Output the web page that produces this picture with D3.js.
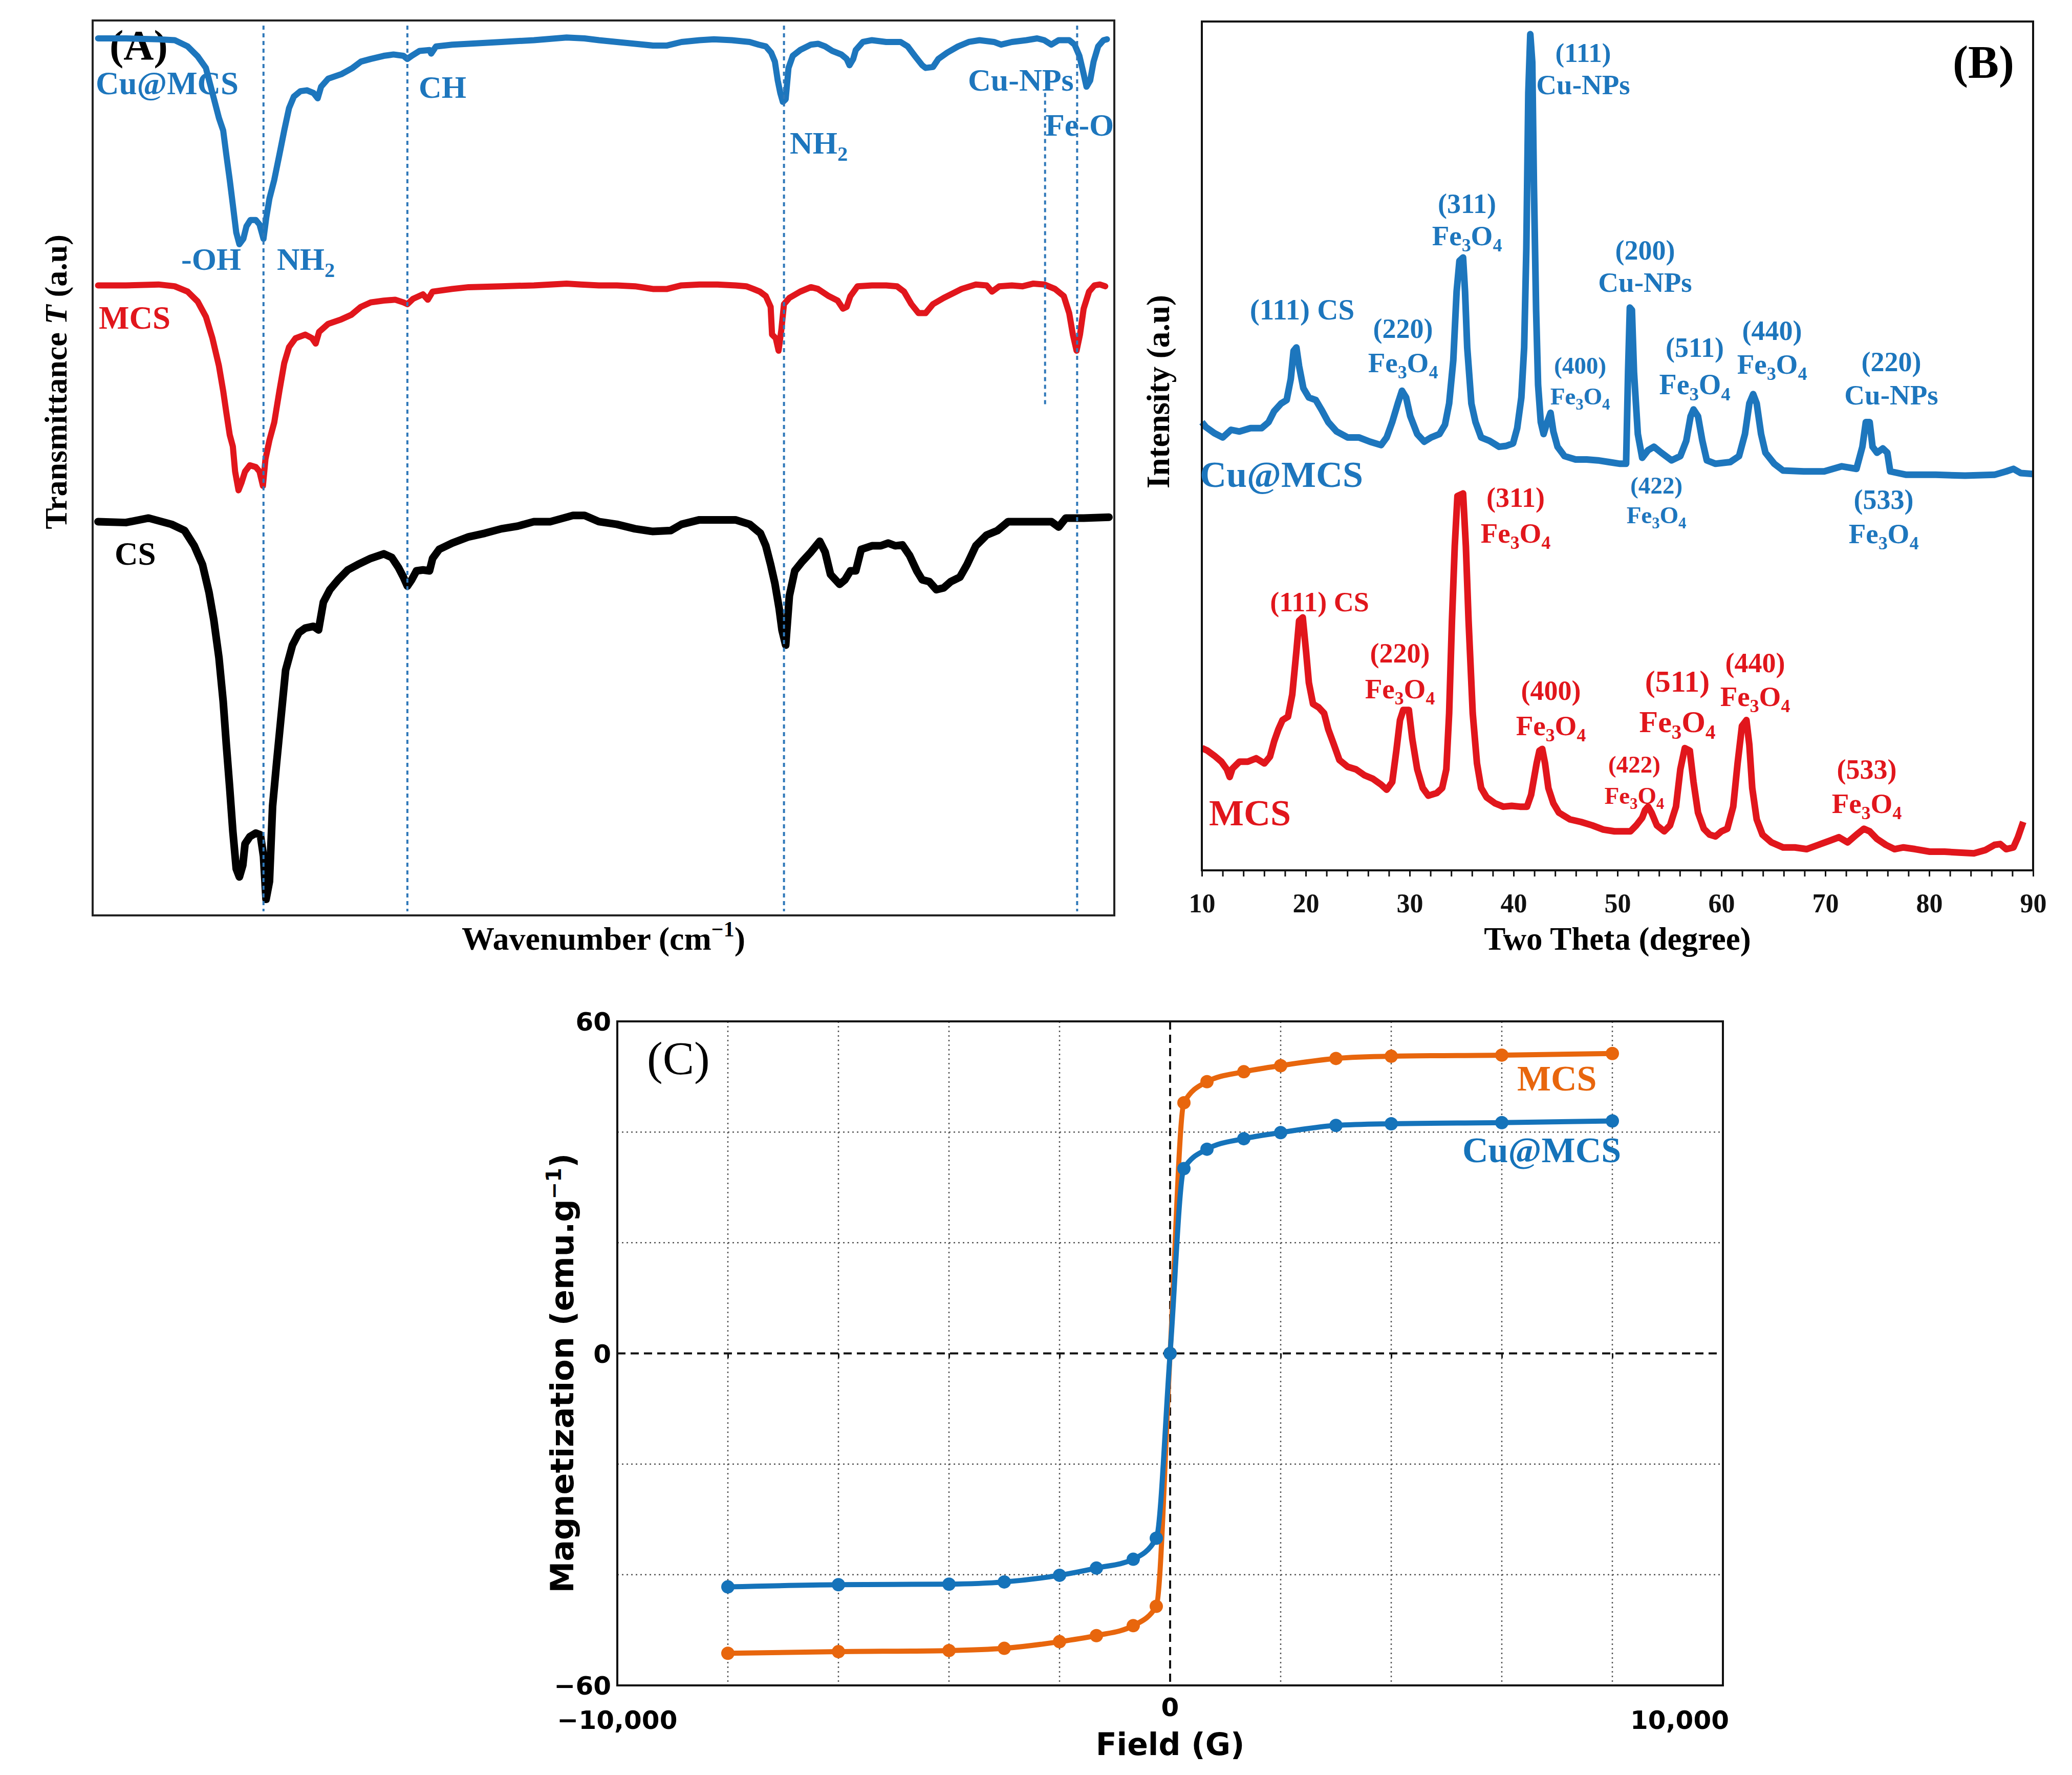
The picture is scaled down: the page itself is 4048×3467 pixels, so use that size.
<!DOCTYPE html>
<html>
<head>
<meta charset="utf-8">
<script src="https://cdn.jsdelivr.net/npm/d3@7"></script>
<style>
    body { margin: 0; background: #fff; }
</style>
</head>
<body>
<div id="chart"></div>
<script>

// ---------- (A) FTIR spectra: [wavenumber cm-1, transmittance (stacked, a.u.)] ----------
const ftirCuMCS = [[3981,98.0],[3883,98.0],[3768,97.9],[3711,97.8],[3665,97.1],[3630,96.0],[3601,94.7],[3578,91.9],[3555,89.1],[3540,87.7],[3529,85.0],[3517,82.2],[3506,79.4],[3494,76.3],[3483,75.0],[3469,75.6],[3458,77.0],[3444,77.7],[3425,77.7],[3412,77.2],[3398,75.6],[3388,78.0],[3377,80.1],[3360,82.2],[3342,85.0],[3325,87.7],[3308,90.2],[3291,91.5],[3268,92.1],[3245,92.2],[3222,91.9],[3207,91.3],[3195,92.6],[3170,93.5],[3124,94.0],[3084,94.7],[3055,95.4],[3020,95.7],[2974,96.05],[2940,96.2],[2905,96.05],[2891,95.7],[2876,96.05],[2848,96.6],[2813,96.7],[2807,96.3],[2790,97.1],[2733,97.3],[2675,97.4],[2560,97.6],[2445,97.8],[2330,98.1],[2267,98.0],[2216,97.8],[2153,97.6],[2089,97.4],[2026,97.2],[1976,97.2],[1925,97.6],[1862,97.8],[1811,97.9],[1748,97.8],[1685,97.6],[1653,97.3],[1628,97.1],[1609,96.4],[1596,95.4],[1586,93.3],[1577,91.9],[1568,90.9],[1558,91.2],[1548,94.7],[1533,96.05],[1507,96.7],[1469,97.3],[1444,97.4],[1419,97.1],[1394,96.6],[1362,96.2],[1343,95.7],[1333,95.0],[1320,95.7],[1311,96.7],[1286,97.6],[1254,97.8],[1204,97.6],[1153,97.6],[1128,97.1],[1103,96.05],[1077,95.0],[1065,94.7],[1039,94.8],[1020,95.7],[989,96.4],[951,97.1],[913,97.6],[875,97.8],[824,97.6],[799,97.3],[761,97.6],[710,97.8],[672,98.0],[647,97.8],[622,97.3],[596,97.8],[559,97.8],[540,97.3],[523,96.05],[510,94.3],[498,92.6],[485,93.3],[473,95.4],[457,97.1],[438,97.8],[426,97.9]];

const ftirMCS = [[3981,70.4],[3883,70.4],[3768,70.5],[3711,70.3],[3665,69.7],[3630,68.6],[3601,66.9],[3578,64.5],[3555,61.4],[3540,58.6],[3529,56.2],[3517,53.7],[3506,52.4],[3498,49.6],[3486,47.5],[3475,48.4],[3463,49.6],[3446,50.3],[3425,50.1],[3412,49.6],[3400,48.0],[3391,51.0],[3377,53.1],[3360,55.1],[3342,58.6],[3325,61.7],[3308,63.5],[3285,64.5],[3251,64.9],[3227,64.5],[3214,63.9],[3202,65.2],[3170,66.1],[3124,66.6],[3089,67.1],[3055,68.0],[3020,68.5],[2974,68.7],[2934,68.8],[2905,68.5],[2891,68.3],[2871,68.9],[2836,69.4],[2819,68.8],[2802,69.7],[2733,70.0],[2675,70.2],[2560,70.3],[2445,70.4],[2330,70.6],[2279,70.5],[2216,70.4],[2153,70.4],[2089,70.3],[2026,70.0],[1976,70.0],[1925,70.4],[1862,70.5],[1798,70.5],[1735,70.4],[1697,70.3],[1672,70.0],[1649,69.7],[1628,69.2],[1611,68.0],[1606,64.9],[1593,64.5],[1583,63.1],[1573,65.5],[1564,68.3],[1545,69.0],[1507,69.7],[1469,70.2],[1444,70.0],[1406,69.2],[1375,68.7],[1356,67.8],[1343,68.0],[1330,69.2],[1305,70.3],[1254,70.4],[1204,70.4],[1166,70.3],[1141,69.7],[1115,68.3],[1090,67.3],[1065,67.3],[1039,68.3],[1001,69.0],[963,69.6],[938,70.0],[888,70.5],[850,70.4],[831,69.7],[805,70.3],[761,70.4],[723,70.3],[685,70.6],[647,70.5],[609,70.0],[578,69.2],[559,67.3],[546,64.9],[533,63.1],[521,64.9],[508,67.8],[489,69.7],[470,70.4],[451,70.5],[432,70.3]];

const ftirCS = [[3981,44.0],[3883,43.9],[3803,44.4],[3722,43.7],[3676,43.0],[3642,41.3],[3613,39.2],[3590,36.1],[3573,33.0],[3555,28.8],[3540,23.9],[3529,19.1],[3517,14.2],[3506,9.4],[3494,5.2],[3483,4.3],[3471,5.6],[3463,8.0],[3446,8.8],[3425,9.2],[3409,9.0],[3398,6.6],[3389,1.8],[3377,3.8],[3366,12.2],[3352,17.0],[3337,21.9],[3320,27.4],[3296,30.2],[3273,31.6],[3251,32.1],[3222,32.3],[3204,31.9],[3187,35.0],[3164,36.4],[3135,37.5],[3101,38.6],[3066,39.2],[3020,39.9],[2974,40.4],[2946,40.0],[2923,38.9],[2905,37.8],[2891,36.8],[2876,37.5],[2859,38.5],[2836,38.6],[2813,38.5],[2802,39.9],[2779,40.9],[2733,41.6],[2675,42.3],[2618,42.7],[2560,43.2],[2502,43.5],[2445,44.0],[2387,44.0],[2341,44.4],[2307,44.7],[2267,44.7],[2216,44.0],[2153,43.7],[2089,43.2],[2026,42.9],[1963,43.0],[1925,43.7],[1862,44.2],[1798,44.2],[1735,44.2],[1685,43.7],[1647,42.7],[1628,41.3],[1611,39.2],[1596,37.1],[1581,34.3],[1571,31.9],[1558,30.2],[1545,35.7],[1526,38.5],[1501,39.5],[1469,40.6],[1438,41.8],[1419,40.6],[1400,38.1],[1368,37.0],[1349,37.5],[1330,38.5],[1311,38.5],[1292,40.9],[1254,41.3],[1223,41.3],[1197,41.6],[1172,41.3],[1147,41.4],[1121,40.2],[1096,38.5],[1077,37.5],[1052,37.3],[1027,36.4],[1001,36.6],[976,37.3],[944,37.8],[919,39.2],[888,41.3],[850,42.5],[812,43.0],[774,44.0],[698,44.0],[622,44.0],[596,43.4],[571,44.4],[508,44.4],[419,44.5]];

// band marker lines (wavenumber)
const ftirBands = [3398, 2891, 1564, 531];
// short Cu-NPs marker: [wavenumber, T from, T to]
const ftirCuBand = [644, 91.9, 56.9];

// ---------- (B) XRD patterns: [2theta, intensity (stacked, a.u.)] ----------
const xrdCuMCS = [[10.01,52.8],[10.41,52.2],[11.21,51.5],[12.01,51.0],[12.81,51.9],[13.62,51.7],[14.69,52.1],[15.75,52.1],[16.42,52.8],[16.96,54.1],[17.63,55.0],[18.16,55.4],[18.56,57.9],[18.83,61.2],[19.10,61.6],[19.36,59.4],[19.77,56.8],[20.30,55.7],[20.97,55.4],[21.50,54.3],[22.17,52.8],[22.97,51.7],[24.04,51.0],[25.11,51.0],[26.18,50.5],[27.25,50.1],[27.79,51.0],[28.32,52.8],[28.86,55.0],[29.26,56.5],[29.66,55.7],[30.06,53.5],[30.73,51.4],[31.40,50.5],[32.06,51.0],[32.87,51.4],[33.40,52.5],[33.80,55.0],[34.20,60.1],[34.52,68.2],[34.79,71.8],[35.14,72.2],[35.33,68.2],[35.54,61.6],[35.94,55.0],[36.34,52.8],[36.88,51.0],[37.68,50.6],[38.61,49.9],[39.28,50.0],[39.95,50.3],[40.35,52.1],[40.75,55.7],[41.02,61.6],[41.23,73.3],[41.42,91.6],[41.61,98.5],[41.80,95.2],[41.96,80.6],[42.17,66.0],[42.36,57.2],[42.62,52.8],[42.89,51.4],[43.24,52.8],[43.56,53.9],[43.83,51.7],[44.23,49.9],[44.90,48.8],[45.97,48.4],[47.04,48.4],[48.11,48.3],[49.18,48.1],[50.25,47.9],[50.65,47.9],[50.83,47.9],[51.02,58.7],[51.19,66.3],[51.39,66.0],[51.59,58.7],[51.96,51.4],[52.38,48.6],[52.95,49.5],[53.51,49.9],[54.22,49.2],[55.21,48.3],[56.05,48.8],[56.62,50.6],[57.04,53.5],[57.32,54.3],[57.75,53.5],[58.17,50.6],[58.60,48.3],[59.44,47.9],[60.85,48.1],[61.70,48.8],[62.27,51.4],[62.69,55.0],[63.06,56.1],[63.40,55.0],[63.82,51.4],[64.24,49.2],[65.09,47.9],[65.94,47.1],[67.92,47.0],[69.89,47.0],[71.59,47.6],[73.00,47.3],[73.57,49.9],[73.90,52.8],[74.27,52.8],[74.55,49.9],[74.98,49.2],[75.54,49.7],[75.97,49.2],[76.25,47.0],[77.80,46.6],[80.63,46.6],[83.45,46.5],[86.28,46.6],[87.41,47.0],[88.11,47.3],[88.82,46.8],[89.95,46.7]];

const xrdMCS = [[10.01,14.4],[10.54,14.1],[11.21,13.5],[11.88,12.8],[12.41,11.9],[12.68,11.0],[12.95,12.0],[13.62,12.8],[14.42,12.8],[15.22,13.2],[16.02,12.6],[16.56,13.4],[16.96,15.2],[17.36,16.6],[17.76,17.7],[18.29,18.1],[18.70,20.7],[19.10,25.8],[19.36,29.4],[19.71,29.8],[20.03,25.8],[20.30,22.1],[20.70,19.6],[21.24,19.2],[21.77,18.5],[22.17,16.6],[22.71,14.8],[23.24,13.0],[24.04,12.2],[24.84,11.9],[25.65,11.2],[26.45,10.8],[27.25,10.1],[27.79,9.5],[28.32,10.4],[28.72,14.1],[29.07,17.7],[29.39,18.9],[29.92,18.9],[30.25,15.5],[30.73,11.9],[31.26,9.7],[31.80,8.8],[32.60,9.1],[33.13,9.7],[33.53,11.9],[33.80,18.5],[34.07,29.4],[34.34,38.2],[34.60,44.1],[35.14,44.4],[35.41,38.2],[35.67,29.4],[36.07,18.5],[36.48,12.6],[36.88,9.7],[37.41,8.6],[38.21,7.9],[39.02,7.5],[39.82,7.6],[40.62,7.5],[41.29,7.5],[41.69,8.9],[42.22,12.6],[42.49,14.1],[42.76,14.3],[43.03,12.6],[43.35,9.7],[43.83,7.9],[44.36,6.8],[45.43,6.0],[46.50,5.7],[47.57,5.3],[48.64,4.8],[49.71,4.6],[50.40,4.6],[51.25,4.6],[51.81,5.3],[52.38,6.2],[52.66,7.1],[52.95,7.5],[53.28,6.8],[53.79,5.3],[54.50,4.6],[55.06,5.3],[55.63,7.5],[56.05,11.9],[56.48,14.4],[56.96,14.1],[57.32,10.4],[57.75,6.8],[58.31,4.9],[58.88,4.2],[59.44,4.0],[60.01,4.6],[60.57,4.9],[61.14,7.5],[61.56,12.6],[61.98,17.0],[62.41,17.7],[62.69,14.8],[62.97,9.7],[63.40,6.0],[63.96,4.2],[64.81,3.3],[65.94,2.7],[67.07,2.7],[68.20,2.5],[69.33,3.0],[70.46,3.5],[71.31,3.9],[72.15,3.3],[73.00,4.2],[73.71,4.9],[74.27,4.6],[74.98,3.7],[75.83,3.0],[76.67,2.5],[77.52,2.7],[78.65,2.5],[80.06,2.2],[81.47,2.2],[82.89,2.1],[84.30,2.0],[85.43,2.4],[86.28,3.0],[86.84,3.1],[87.41,2.5],[88.11,2.7],[88.54,3.9],[89.05,5.7]];

const xrdTicks = [10,12,14,16,18,20,22,24,26,28,30,32,34,36,38,40,42,44,46,48,50,52,54,56,58,60,62,64,66,68,70,72,74,76,78,80,82,84,86,88,90];
const xrdTickLabels = [10, 20, 30, 40, 50, 60, 70, 80, 90];

// ---------- (C) VSM hysteresis ----------
const vsmField = [-8000, -6000, -4000, -3000, -2000, -1333, -667, -250, 0, 250, 667, 1333, 2000, 3000, 4000, 6000, 8000];
const vsmMCS = [-54.2, -53.9, -53.7, -53.3, -52.1, -51.0, -49.2, -45.7, 0, 45.3, 49.1, 50.9, 52.0, 53.3, 53.7, 53.9, 54.2];
const vsmCuMCS = [-42.2, -41.8, -41.7, -41.3, -40.1, -38.8, -37.2, -33.4, 0, 33.4, 36.9, 38.8, 39.9, 41.2, 41.5, 41.7, 42.0];
const vsmGridX = [-8000, -6000, -4000, -2000, 2000, 4000, 6000, 8000];
const vsmGridY = [-40, -20, 20, 40];
const vsmTicksY = [60, 0, -60];
const vsmTicksX = [-10000, 0, 10000];


// ---------- drawing ----------
const W = 4048, H = 3467;
const serif = '"Liberation Serif", "Times New Roman", serif';
const sans = '"DejaVu Sans", sans-serif';
const blue = "#1d76bd", red = "#e1161c";
const cOrange = "#e8660d", cBlue = "#1573ba";

const svg = d3.select("#chart").append("svg")
    .attr("width", W)
    .attr("height", H);

svg.append("rect").attr("width", W).attr("height", H).attr("fill", "#fff");

// text with chemical subscripts (digits right after a letter)
function label(g, str, x, y, o) {
    let size = o.size;
    let t = g.append("text")
        .attr("x", x).attr("y", y)
        .attr("font-family", o.family || serif)
        .attr("font-weight", o.weight || "bold")
        .attr("font-size", size)
        .attr("fill", o.color || "#000")
        .attr("text-anchor", o.anchor || "start");
    let parts = str.split(/(?<=[A-Za-z])(\d+)/);
    parts.forEach((p, i) => {
        if (!p) return;
        if (i % 2 === 1) {
            t.append("tspan").attr("font-size", size * 0.65).attr("dy", size * 0.22).text(p);
        } else {
            t.append("tspan").attr("dy", i > 0 ? -size * 0.22 : 0).text(p);
        }
    });
    return t;
}


/* * * * * * (A) FTIR * * * * * */
const boxA = {x0: 181, x1: 2177, y0: 40, y1: 1788};
const xA = d3.scaleLinear().domain([4000, 400]).range([boxA.x0, boxA.x1]);
const yA = d3.scaleLinear().domain([0, 100]).range([boxA.y1, boxA.y0]);
const lineA = d3.line().x(d => xA(d[0])).y(d => yA(d[1]));

let gA = svg.append("g");

// labels sit under the curves
label(gA, "(A)", 214, 116, {size: 82});
label(gA, "Cu@MCS", 187, 184, {size: 63, color: blue});
label(gA, "-OH", 354, 527, {size: 62, color: blue});
label(gA, "NH2", 541, 527, {size: 62, color: blue});
label(gA, "CH", 818, 191, {size: 62, color: blue});
label(gA, "NH2", 1543, 300, {size: 62, color: blue});
label(gA, "Cu-NPs", 1891, 177, {size: 62, color: blue});
label(gA, "Fe-O", 2042, 265, {size: 62, color: blue});
label(gA, "MCS", 193, 642, {size: 63, color: red});
label(gA, "CS", 224, 1103, {size: 63});

[[ftirCS, "#000", 15], [ftirMCS, red, 12], [ftirCuMCS, blue, 12]].forEach(([data, color, w]) => {
    gA.append("path")
        .datum(data)
        .attr("d", lineA)
        .attr("fill", "none")
        .attr("stroke", color)
        .attr("stroke-width", w)
        .attr("stroke-linejoin", "round")
        .attr("stroke-linecap", "round");
});

gA.selectAll(".band")
    .data(ftirBands)
    .enter().append("line")
    .attr("class", "band")
    .attr("x1", d => xA(d)).attr("x2", d => xA(d))
    .attr("y1", boxA.y0 + 10).attr("y2", boxA.y1 - 8)
    .attr("stroke", "#2f78b9")
    .attr("stroke-width", 4)
    .attr("stroke-dasharray", "8,7");

gA.append("line")
    .attr("x1", xA(ftirCuBand[0])).attr("x2", xA(ftirCuBand[0]))
    .attr("y1", yA(ftirCuBand[1])).attr("y2", yA(ftirCuBand[2]))
    .attr("stroke", "#2f78b9")
    .attr("stroke-width", 4)
    .attr("stroke-dasharray", "8,7");

gA.append("rect")
    .attr("x", boxA.x0).attr("y", boxA.y0)
    .attr("width", boxA.x1 - boxA.x0).attr("height", boxA.y1 - boxA.y0)
    .attr("fill", "none").attr("stroke", "#222").attr("stroke-width", 4);

let wnLabel = gA.append("text")
    .attr("x", (boxA.x0 + boxA.x1) / 2).attr("y", 1855)
    .attr("text-anchor", "middle")
    .attr("font-family", serif).attr("font-weight", "bold").attr("font-size", 64);
wnLabel.append("tspan").text("Wavenumber (cm");
wnLabel.append("tspan").attr("font-size", 42).attr("dy", -26).text("\u22121");
wnLabel.append("tspan").attr("dy", 26).text(")");

let tLabel = gA.append("text")
    .attr("transform", "translate(130,746) rotate(-90)")
    .attr("text-anchor", "middle")
    .attr("font-family", serif).attr("font-weight", "bold").attr("font-size", 62);
tLabel.append("tspan").text("Transmittance ");
tLabel.append("tspan").attr("font-style", "italic").text("T");
tLabel.append("tspan").text(" (a.u)");


/* * * * * * (B) XRD * * * * * */
const boxB = {x0: 2348, x1: 3972, y0: 42, y1: 1700};
const xB = d3.scaleLinear().domain([10, 90]).range([boxB.x0, boxB.x1]);
const yB = d3.scaleLinear().domain([0, 100]).range([boxB.y1, boxB.y0]);
const lineB = d3.line().x(d => xB(d[0])).y(d => yB(d[1]));

let gB = svg.append("g");

[[xrdMCS, red], [xrdCuMCS, blue]].forEach(([data, color]) => {
    gB.append("path")
        .datum(data)
        .attr("d", lineB)
        .attr("fill", "none")
        .attr("stroke", color)
        .attr("stroke-width", 13)
        .attr("stroke-linejoin", "round");
});

gB.append("rect")
    .attr("x", boxB.x0).attr("y", boxB.y0)
    .attr("width", boxB.x1 - boxB.x0).attr("height", boxB.y1 - boxB.y0)
    .attr("fill", "none").attr("stroke", "#111").attr("stroke-width", 4);

let axB = gB.append("g")
    .attr("transform", `translate(0,${boxB.y1})`)
    .call(d3.axisBottom(xB)
        .tickValues(xrdTicks)
        .tickSize(12)
        .tickFormat(d => xrdTickLabels.includes(d) ? d : ""));
axB.select(".domain").remove();
axB.selectAll(".tick line").attr("stroke", "#111").attr("stroke-width", 3);
axB.selectAll("text")
    .attr("y", 82).attr("dy", 0)
    .attr("fill", "#111")
    .attr("font-family", serif).attr("font-weight", "bold").attr("font-size", 52);

label(gB, "Two Theta (degree)", (boxB.x0 + boxB.x1) / 2, 1855, {size: 63, anchor: "middle"});
gB.append("text")
    .attr("transform", "translate(2284,765) rotate(-90)")
    .attr("text-anchor", "middle")
    .attr("font-family", serif).attr("font-weight", "bold").attr("font-size", 63)
    .text("Intensity (a.u)");

label(gB, "(B)", 3815, 152, {size: 90});
label(gB, "Cu@MCS", 2344, 951, {size: 72, color: blue});
label(gB, "MCS", 2362, 1612, {size: 72, color: red});

// peak annotations: [text, x, baseline, size]
const peakLabelsCu = [
    ["(111)", 3093, 121, 53], ["Cu-NPs", 3093, 184, 55],
    ["(311)", 2866, 416, 54], ["Fe3O4", 2866, 479, 55],
    ["(111) CS", 2544, 624, 57],
    ["(220)", 2741, 660, 54], ["Fe3O4", 2741, 727, 55],
    ["(400)", 3087, 730, 47], ["Fe3O4", 3087, 790, 47],
    ["(200)", 3214, 507, 54], ["Cu-NPs", 3214, 570, 55],
    ["(511)", 3311, 697, 54], ["Fe3O4", 3311, 770, 56],
    ["(440)", 3462, 664, 54], ["Fe3O4", 3462, 730, 55],
    ["(220)", 3695, 725, 54], ["Cu-NPs", 3695, 790, 55],
    ["(422)", 3236, 964, 47], ["Fe3O4", 3236, 1022, 47],
    ["(533)", 3680, 994, 54], ["Fe3O4", 3680, 1061, 55]
];
const peakLabelsMCS = [
    ["(311)", 2961, 990, 54], ["Fe3O4", 2961, 1060, 55],
    ["(111) CS", 2578, 1194, 54],
    ["(220)", 2735, 1294, 54], ["Fe3O4", 2735, 1364, 55],
    ["(400)", 3030, 1367, 54], ["Fe3O4", 3030, 1436, 55],
    ["(422)", 3193, 1509, 47], ["Fe3O4", 3193, 1570, 47],
    ["(511)", 3277, 1351, 60], ["Fe3O4", 3277, 1430, 60],
    ["(440)", 3429, 1313, 54], ["Fe3O4", 3429, 1379, 55],
    ["(533)", 3647, 1521, 54], ["Fe3O4", 3647, 1588, 55]
];
peakLabelsCu.forEach(d => label(gB, d[0], d[1], d[2], {size: d[3], color: blue, anchor: "middle"}));
peakLabelsMCS.forEach(d => label(gB, d[0], d[1], d[2], {size: d[3], color: red, anchor: "middle"}));


/* * * * * * (C) VSM * * * * * */
const boxC = {x0: 1206, x1: 3366, y0: 1995, y1: 3292};
const xC = d3.scaleLinear().domain([-10000, 10000]).range([boxC.x0, boxC.x1]);
const yC = d3.scaleLinear().domain([-60, 60]).range([boxC.y1, boxC.y0]);

let gC = svg.append("g");

gC.selectAll(".gx")
    .data(vsmGridX)
    .enter().append("line")
    .attr("x1", d => xC(d)).attr("x2", d => xC(d))
    .attr("y1", boxC.y0).attr("y2", boxC.y1)
    .attr("stroke", "#555").attr("stroke-width", 2.5).attr("stroke-dasharray", "3,6");

gC.selectAll(".gy")
    .data(vsmGridY)
    .enter().append("line")
    .attr("x1", boxC.x0).attr("x2", boxC.x1)
    .attr("y1", d => yC(d)).attr("y2", d => yC(d))
    .attr("stroke", "#555").attr("stroke-width", 2.5).attr("stroke-dasharray", "3,6");

// zero axes
gC.append("line")
    .attr("x1", boxC.x0).attr("x2", boxC.x1).attr("y1", yC(0)).attr("y2", yC(0))
    .attr("stroke", "#111").attr("stroke-width", 4).attr("stroke-dasharray", "16,10");
gC.append("line")
    .attr("x1", xC(0)).attr("x2", xC(0)).attr("y1", boxC.y0).attr("y2", boxC.y1)
    .attr("stroke", "#111").attr("stroke-width", 4).attr("stroke-dasharray", "16,10");

let zeroAx = gC.append("g")
    .attr("transform", `translate(0,${yC(0)})`)
    .call(d3.axisBottom(xC).tickValues(vsmGridX).tickSize(9).tickFormat(""));
zeroAx.select(".domain").remove();
zeroAx.selectAll(".tick line").attr("stroke", "#111").attr("stroke-width", 3);

const lineC = d3.line()
    .x((d, i) => xC(vsmField[i]))
    .y(d => yC(d))
    .curve(d3.curveMonotoneX);

[[vsmMCS, cOrange], [vsmCuMCS, cBlue]].forEach(([vals, color]) => {
    gC.append("path")
        .datum(vals)
        .attr("d", lineC)
        .attr("fill", "none")
        .attr("stroke", color)
        .attr("stroke-width", 10);

    gC.selectAll(null)
        .data(vals)
        .enter().append("circle")
        .attr("cx", (d, i) => xC(vsmField[i]))
        .attr("cy", d => yC(d))
        .attr("r", 13)
        .attr("fill", color);
});

gC.append("rect")
    .attr("x", boxC.x0).attr("y", boxC.y0)
    .attr("width", boxC.x1 - boxC.x0).attr("height", boxC.y1 - boxC.y0)
    .attr("fill", "none").attr("stroke", "#111").attr("stroke-width", 4);

// tick labels
gC.selectAll(".ty")
    .data(vsmTicksY)
    .enter().append("text")
    .attr("x", boxC.x0 - 12)
    .attr("y", d => yC(d) + 18)
    .attr("text-anchor", "end")
    .attr("font-family", sans).attr("font-weight", "bold").attr("font-size", 50)
    .text(d => d3.format(",")(d));

gC.selectAll(".tx")
    .data(vsmTicksX)
    .enter().append("text")
    .attr("x", d => d === 0 ? xC(0) : d < 0 ? xC(d) : xC(d) + 12)
    .attr("y", d => d === 0 ? 3352 : 3377)
    .attr("text-anchor", d => d > 0 ? "end" : "middle")
    .attr("font-family", sans).attr("font-weight", "bold").attr("font-size", 50)
    .text(d => d3.format(",")(d));

gC.append("text")
    .attr("x", xC(0)).attr("y", 3428)
    .attr("text-anchor", "middle")
    .attr("font-family", sans).attr("font-weight", "bold").attr("font-size", 60)
    .text("Field (G)");

let mLabel = gC.append("text")
    .attr("transform", "translate(1120,2682) rotate(-90)")
    .attr("text-anchor", "middle")
    .attr("font-family", sans).attr("font-weight", "bold").attr("font-size", 62);
mLabel.append("tspan").text("Magnetization (emu.g");
mLabel.append("tspan").attr("font-size", 40).attr("dy", -24).text("\u22121");
mLabel.append("tspan").attr("dy", 24).text(")");

label(gC, "(C)", 1264, 2098, {size: 92, weight: "normal"});
label(gC, "MCS", 2964, 2130, {size: 70, color: cOrange});
label(gC, "Cu@MCS", 2857, 2270, {size: 70, color: cBlue});

</script>
</body>
</html>
